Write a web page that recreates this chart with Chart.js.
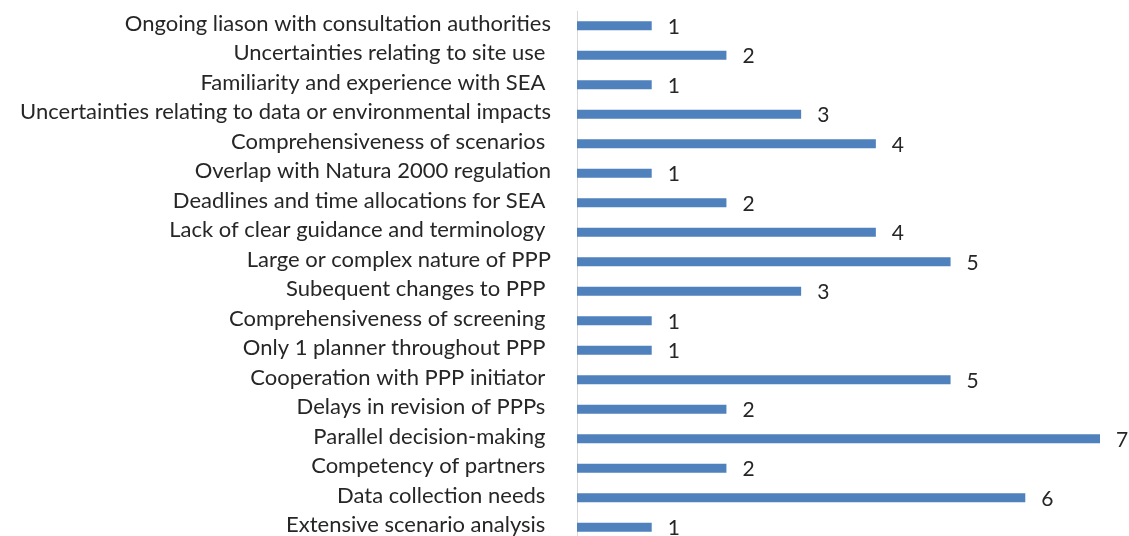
<!DOCTYPE html>
<html>
<head>
<meta charset="utf-8">
<script src="https://cdn.jsdelivr.net/npm/chart.js@4/dist/chart.umd.min.js"></script>
<style>
  html, body { margin: 0; padding: 0; background: #fff; overflow: hidden; }
  canvas { display: block; }
</style>
</head>
<body>
<canvas id="chart" width="1129" height="546"></canvas>
<script>
const categories = [
    'Ongoing liason with consultation authorities',
    'Uncertainties relating to site use ',
    'Familiarity and experience with SEA ',
    'Uncertainties relating to data or environmental impacts',
    'Comprehensiveness of scenarios ',
    'Overlap with Natura 2000 regulation',
    'Deadlines and time allocations for SEA ',
    'Lack of clear guidance and terminology ',
    'Large or complex nature of PPP',
    'Subequent changes to PPP ',
    'Comprehensiveness of screening ',
    'Only 1 planner throughout PPP ',
    'Cooperation with PPP initiator ',
    'Delays in revision of PPPs ',
    'Parallel decision-making ',
    'Competency of partners ',
    'Data collection needs ',
    'Extensive scenario analysis '
];
const counts = [1, 2, 1, 3, 4, 1, 2, 4, 5, 3, 1, 1, 5, 2, 7, 2, 6, 1];
const xMax = 7;

const FONT = 'Lato';

// value labels to the right of each bar
const valueLabels = {
    id: 'valueLabels',
    afterDatasetsDraw(chart) {
        const ctx = chart.ctx;
        const meta = chart.getDatasetMeta(0);
        ctx.save();
        ctx.font = '21px ' + FONT;
        ctx.fillStyle = '#262626';
        ctx.textAlign = 'left';
        ctx.textBaseline = 'middle';
        meta.data.forEach((bar, i) => {
            ctx.fillText(String(counts[i]), bar.x + 16, bar.y + 1);
        });
        ctx.restore();
    }
};

new Chart(document.getElementById('chart').getContext('2d'), {
    type: 'bar',
    data: {
        labels: categories,
        datasets: [{
            data: counts,
            backgroundColor: '#4F81BD',
            borderWidth: 0,
            barPercentage: 0.31,
            categoryPercentage: 1
        }]
    },
    options: {
        indexAxis: 'y',
        responsive: false,
        animation: false,
        layout: { padding: { top: 11, bottom: 4, right: 29, left: 0 } },
        scales: {
            x: { display: false, min: 0, max: xMax },
            y: {
                grid: { display: false, drawTicks: false },
                border: { display: true, color: '#d9d9d9', width: 1 },
                ticks: { padding: 26, labelOffset: -2, color: '#262626', autoSkip: false, font: { family: FONT, size: 22 } },
                afterFit(scale) {
                    scale.width = 577;
                    // tick padding would otherwise be added above and below the axis
                    scale.paddingTop = 0;
                    scale.paddingBottom = 0;
                }
            }
        },
        plugins: {
            legend: { display: false },
            tooltip: { enabled: false }
        }
    },
    plugins: [valueLabels]
});
</script>
</body>
</html>
